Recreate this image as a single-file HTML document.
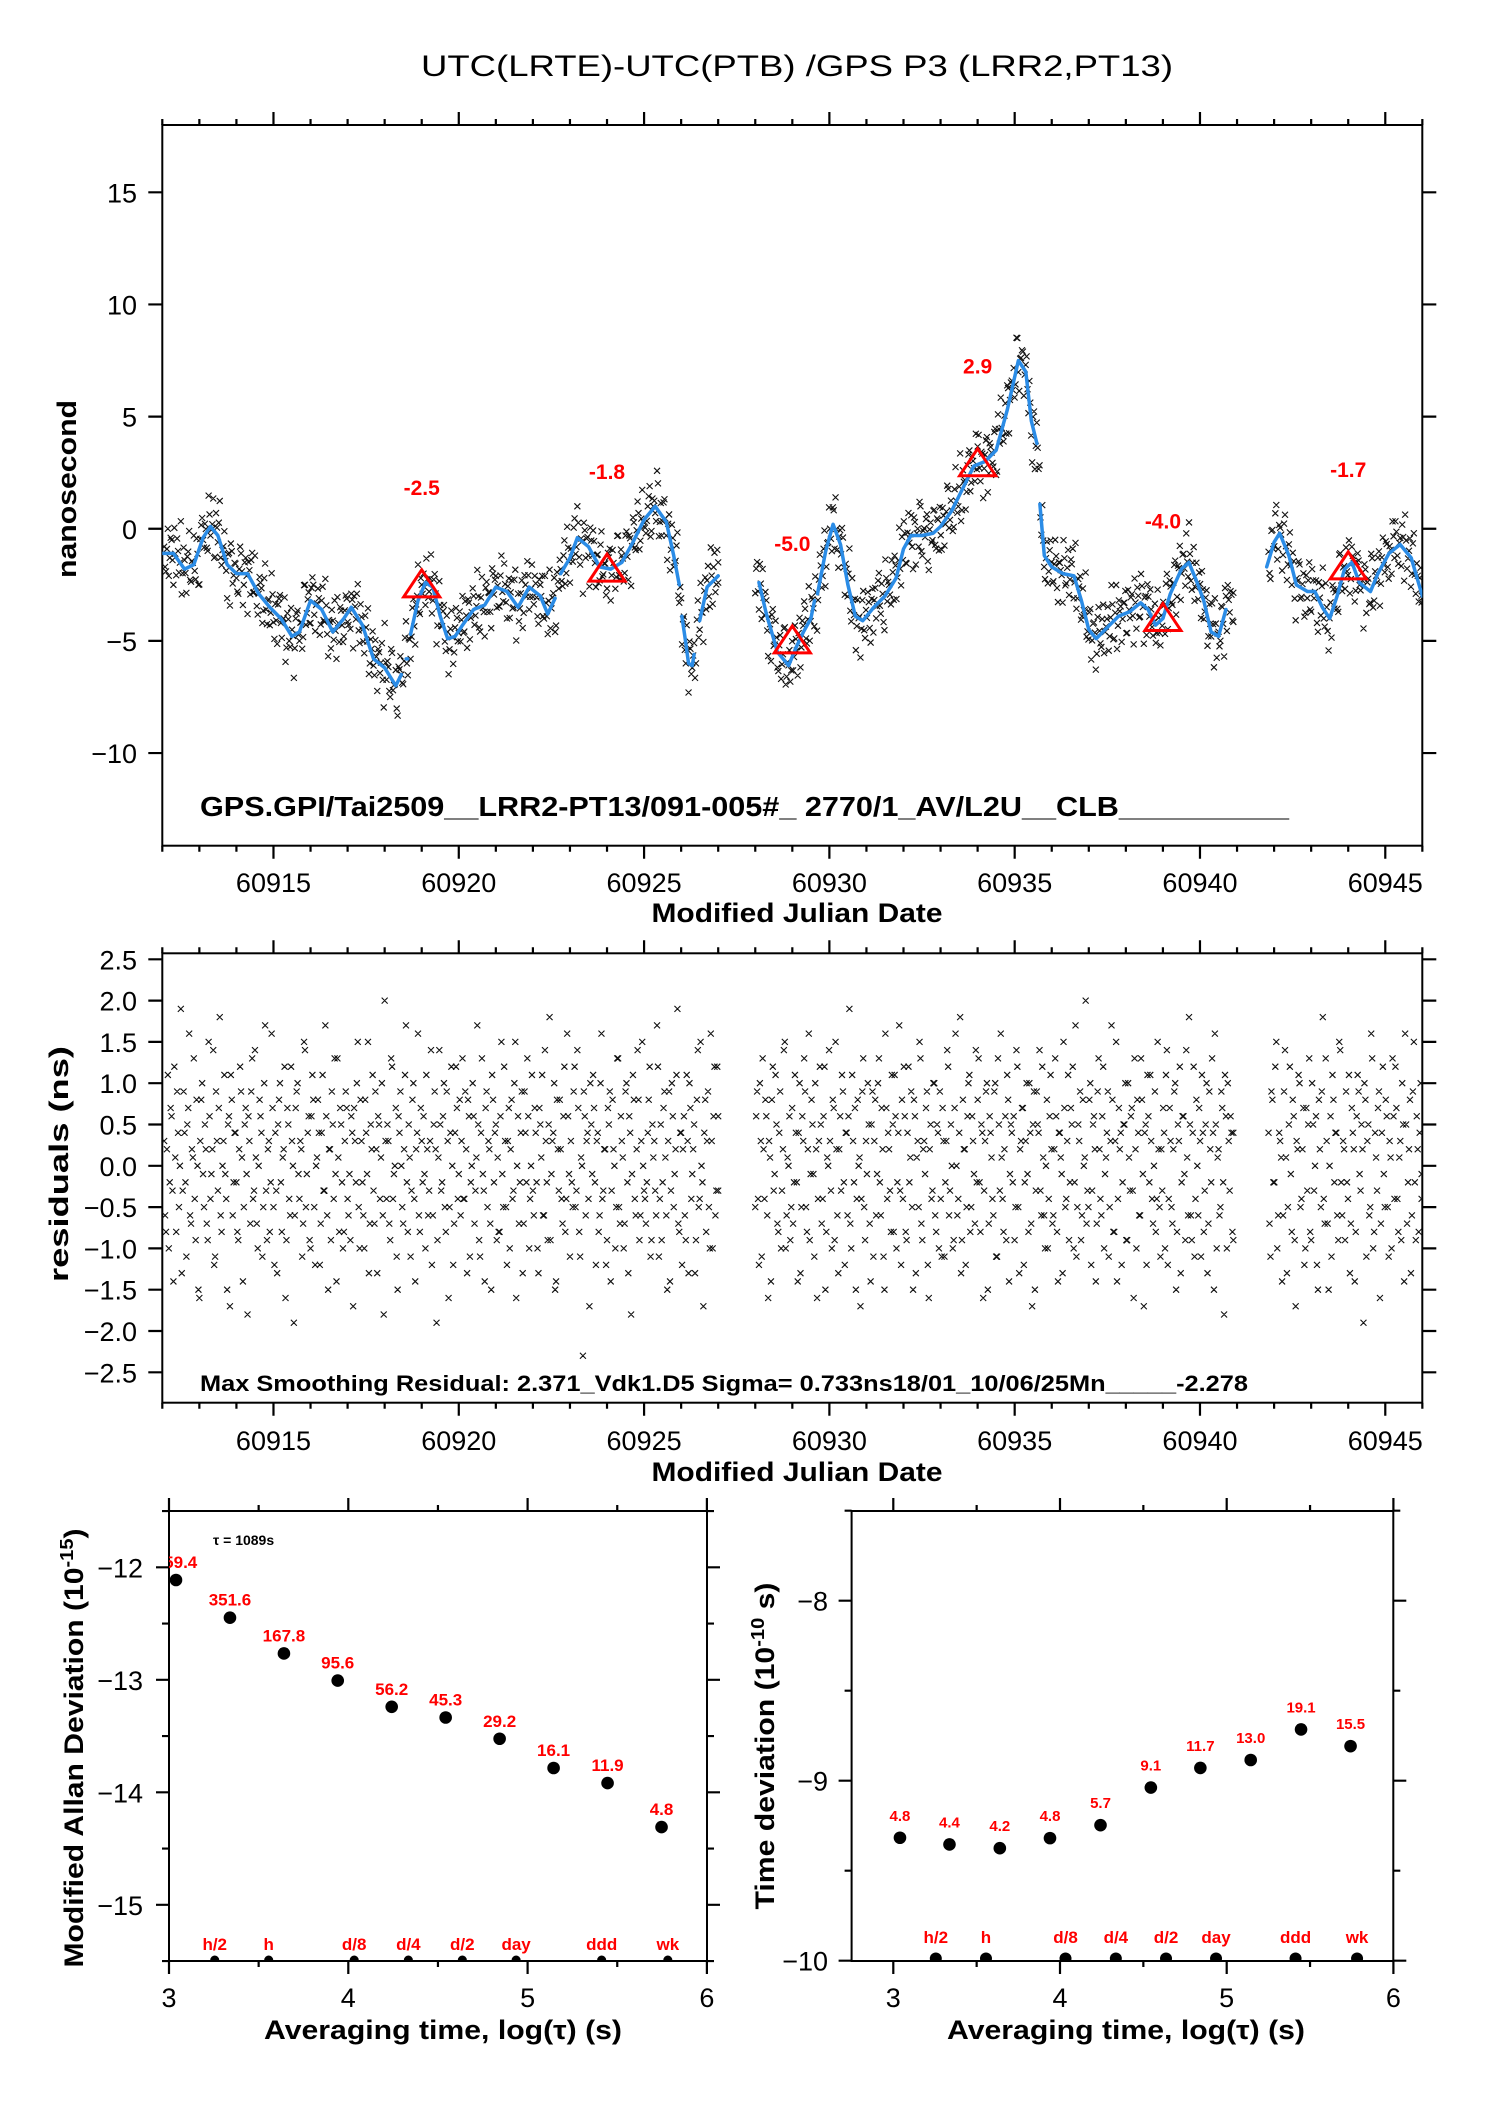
<!DOCTYPE html>
<html><head><meta charset="utf-8"><title>UTC(LRTE)-UTC(PTB) GPS P3</title>
<style>
html,body{margin:0;padding:0;background:#fff;}
svg{display:block;font-family:"Liberation Sans",Arial,sans-serif;}
.tick{font-size:27px;fill:#000;}
.axl{font-size:27px;font-weight:bold;fill:#000;}
.red{fill:#ff0000;font-weight:bold;}
</style></head>
<body>
<svg id="fig" width="1488" height="2105" viewBox="0 0 1488 2105" xmlns="http://www.w3.org/2000/svg">
<defs>
<clipPath id="clipTop"><rect x="162.3" y="125" width="1260" height="720.7"/></clipPath>
<clipPath id="clipMid"><rect x="162.3" y="953.3" width="1260" height="449.4"/></clipPath>
<clipPath id="clipAdev"><rect x="169" y="1511" width="538" height="450"/></clipPath>
<clipPath id="clipTdev"><rect x="851.6" y="1511" width="541.7" height="450"/></clipPath>
</defs>
<text x="797" y="76" text-anchor="middle" font-size="30" textLength="752" lengthAdjust="spacingAndGlyphs">UTC(LRTE)-UTC(PTB)  /GPS  P3  (LRR2,PT13)</text>

<rect x="162.3" y="125" width="1260" height="720.7" fill="none" stroke="#000" stroke-width="2"/>
<rect x="162.3" y="953.3" width="1260" height="449.4" fill="none" stroke="#000" stroke-width="2"/>
<rect x="169" y="1511" width="538" height="450" fill="none" stroke="#000" stroke-width="2"/>
<rect x="851.6" y="1511" width="541.7" height="450" fill="none" stroke="#000" stroke-width="2"/>

<text class="axl" transform="translate(76,489) rotate(-90)" text-anchor="middle" textLength="178" lengthAdjust="spacingAndGlyphs">nanosecond</text>
<text class="axl" x="797" y="929" text-anchor="middle" textLength="291" lengthAdjust="spacingAndGlyphs" dy="-7">Modified Julian Date</text>
<text x="200" y="816" font-size="28" font-weight="bold" textLength="1089" lengthAdjust="spacingAndGlyphs">GPS.GPI/Tai2509__LRR2-PT13/091-005#_  2770/1_AV/L2U__CLB__________</text>

<text class="axl" transform="translate(68,1164) rotate(-90)" text-anchor="middle" textLength="236" lengthAdjust="spacingAndGlyphs">residuals (ns)</text>
<text class="axl" x="797" y="1481" text-anchor="middle" textLength="291" lengthAdjust="spacingAndGlyphs">Modified Julian Date</text>
<text x="200" y="1391" font-size="22" font-weight="bold" textLength="1048" lengthAdjust="spacingAndGlyphs">Max Smoothing Residual: 2.371_Vdk1.D5  Sigma= 0.733ns18/01_10/06/25Mn_____-2.278</text>

<text class="axl" transform="translate(83,1748) rotate(-90)" text-anchor="middle" textLength="439" lengthAdjust="spacingAndGlyphs">Modified Allan Deviation (10<tspan font-size="18" dy="-10">-15</tspan><tspan dy="10">)</tspan></text>
<text class="axl" x="443" y="2039" text-anchor="middle" textLength="358" lengthAdjust="spacingAndGlyphs">Averaging time, log(τ) (s)</text>
<text x="213" y="1545" font-size="14" font-weight="bold">τ = 1089s</text>

<text class="axl" transform="translate(774,1746) rotate(-90)" text-anchor="middle" textLength="327" lengthAdjust="spacingAndGlyphs">Time deviation (10<tspan font-size="18" dy="-10">-10</tspan><tspan dy="10"> s)</tspan></text>
<text class="axl" x="1126" y="2039" text-anchor="middle" textLength="358" lengthAdjust="spacingAndGlyphs">Averaging time, log(τ) (s)</text>

<g id="gTop" clip-path="url(#clipTop)"></g>
<g id="gMid" clip-path="url(#clipMid)"></g>
<g id="gAdev" clip-path="url(#clipAdev)"></g>
<g id="gTdev" clip-path="url(#clipTdev)"></g>
<g id="gAxes"></g>
</svg>
<script>
// ---------- data ----------
const mjdTicks = [60915, 60920, 60925, 60930, 60935, 60940, 60945];
const topYTicks = [15, 10, 5, 0, -5, -10];
const midYTicks = [2.5, 2.0, 1.5, 1.0, 0.5, 0.0, -0.5, -1.0, -1.5, -2.0, -2.5];
const curveMjd = [60912.0,60912.3,60912.6,60912.85,60913.1,60913.3,60913.5,60913.75,60914.0,60914.3,60914.6,60914.9,60915.2,60915.5,60915.7,60916.0,60916.3,60916.6,60916.9,60917.1,60917.4,60917.7,60918.0,60918.3,60918.45,null,
60918.58,60918.62,null,
60918.7,60918.9,60919.1,60919.3,60919.5,60919.7,60919.9,60920.1,60920.4,60920.7,60921.0,60921.3,60921.6,60921.9,60922.2,60922.4,60922.6,null,
60922.75,60923.0,60923.2,60923.5,60923.8,60924.1,60924.4,60924.7,60925.0,60925.3,60925.6,60925.8,60925.95,null,
60926.02,60926.1,60926.2,60926.3,60926.35,null,
60926.5,60926.7,60927.0,null,
60928.1,60928.3,60928.6,60928.9,60929.1,60929.3,60929.5,60929.6,null,
60929.68,60929.9,60930.1,60930.3,60930.5,60930.7,60930.9,60931.2,60931.5,60931.8,60932.0,60932.2,60932.5,60932.8,60933.0,60933.3,60933.6,60933.9,60934.2,60934.5,60934.8,60935.1,60935.3,60935.45,60935.6,null,
60935.68,60935.8,60936.0,60936.3,60936.6,60936.8,60937.0,60937.2,60937.5,60937.8,60938.1,60938.4,60938.6,60938.8,60939.0,60939.2,60939.5,60939.7,60939.9,60940.1,60940.3,60940.5,60940.7,null,
60941.8,60942.0,60942.15,60942.4,60942.6,60942.9,60943.1,60943.3,60943.5,60943.7,60943.9,60944.1,60944.3,60944.6,60944.8,60945.1,60945.4,60945.7,60946.0];
const curveNs = [-1.1,-1.1,-1.8,-1.6,-0.4,0.1,-0.3,-1.6,-2.0,-2.0,-2.9,-3.5,-4.0,-4.8,-4.6,-3.2,-3.6,-4.6,-4.0,-3.5,-4.3,-5.8,-6.2,-7.0,-6.5,null,
-5.8,-5.8,null,
-4.7,-3.2,-2.4,-2.6,-3.9,-4.9,-4.8,-4.3,-3.6,-3.4,-2.6,-2.8,-3.5,-2.6,-3.0,-3.8,-3.1,null,
-2.0,-1.3,-0.4,-0.8,-1.7,-1.8,-1.5,-0.6,0.4,1.0,0.3,-1.2,-2.5,null,
-3.9,-4.8,-6.0,-6.1,-5.6,null,
-4.1,-2.6,-2.1,null,
-2.4,-3.8,-5.5,-6.1,-5.3,-4.6,-4.0,-3.2,null,
-2.9,-1.0,0.2,-0.7,-2.5,-3.9,-4.1,-3.5,-3.0,-2.2,-0.9,-0.3,-0.3,-0.2,0.1,0.8,1.8,2.8,3.0,3.5,5.3,7.5,7.0,4.8,3.8,null,
1.1,-1.2,-1.7,-2.0,-2.1,-3.2,-4.5,-4.9,-4.4,-3.9,-3.7,-3.3,-3.6,-4.3,-4.0,-2.9,-1.8,-1.5,-2.3,-3.2,-4.6,-4.8,-3.6,null,
-1.7,-0.6,-0.2,-1.2,-2.5,-2.8,-2.8,-3.5,-4.0,-3.0,-1.8,-1.5,-2.4,-2.8,-2.0,-1.1,-0.7,-1.3,-3.0];
const triMjd = [60919, 60924, 60929, 60934, 60939, 60944];
const triNs = [-2.5, -1.8, -5.0, 2.9, -4.0, -1.7];
const segStart = [60912.05, 60928.0, 60941.85];
const segEnd = [60927.0, 60940.9, 60945.98];
const residA = [0.3,-0.8,1.1,-0.2,0.6,-1.4,0.1,0.9,-0.5,1.9,-0.3,0.4,-1.1,0.7,-0.6,0.2,1.3,-0.9,0.0,-1.6,
0.8,-0.1,0.5,-0.7,1.5,-0.4,0.2,-1.2,0.9,-0.3,1.8,-0.8,0.3,-0.1,-1.5,0.6,1.1,-0.6,0.4,-0.2,
-0.9,1.2,0.1,-0.5,0.7,-1.8,0.3,0.9,-0.4,1.4,-0.7,0.0,0.6,-1.1,1.0,-0.3,0.2,-0.8,1.6,-0.5,
0.4,-1.3,0.8,-0.2,0.1,1.2,-0.9,0.5,-0.6,0.3,-1.9,0.7,1.0,-0.4,0.2,-0.7,1.4,-0.1,0.6,-1.0,
1.1,-0.5,0.0,0.8,-1.2,0.4,-0.3,1.7,-0.6,0.2,-0.9,0.5,1.3,-1.4,0.1,0.7,-0.2,-0.8,0.9,-0.4,
-0.1,0.6,-1.7,0.3,1.0,-0.5,0.8,-0.2,-1.0,0.4,1.5,-0.7,0.2,-0.3,0.9,-1.3,0.5,0.1,-0.6,2.0,
-0.4,0.3,-0.9,1.2,-0.1,0.7,-1.5,0.4,0.0,-0.7,1.1,-0.2,0.5,-1.1,0.8,-0.4,0.2,1.6,-0.8,0.3,
0.6,-1.0,0.2,-0.3,1.4,-0.6,0.9,-1.9,0.1,0.5,-0.2,1.0,-0.8,0.3,-0.5,1.2,-1.2,0.4,0.7,-0.1,
-0.6,1.3,-0.4,0.2,0.8,-1.1,0.0,0.6,-0.3,1.7,-0.9,0.4,-0.1,-1.4,0.9,0.3,-0.7,1.1,-0.2,0.5,
0.1,-0.8,1.5,-0.5,0.3,-1.2,0.7,0.2,-0.4,1.0,-1.6,0.6,-0.2,0.9,-0.7,0.4,1.3,-1.0,0.0,-0.3,
0.7,-0.2,-1.3,0.5,1.1,-0.6,0.3,-0.9,1.8,-0.1,0.4,-1.5,0.8,-0.3,0.2,-0.7,1.2,-0.4,0.6,-1.1,
-0.2,0.9,-0.5,1.4,-0.8,0.1,-2.3,0.6,0.3,-0.4,1.0,-0.1,0.7,-1.2,0.4,-0.6,1.6,-0.3,0.2,-0.9,
0.5,-1.4,0.8,0.0,-0.5,1.3,-0.7,0.3,-1.0,0.9,-0.2,0.6,-1.8,1.1,-0.4,0.2,0.8,-0.6,1.5,-0.3,
-0.7,0.4,1.2,-0.9,0.1,-0.3,1.7,-1.1,0.5,-0.2,0.9,-0.6,0.3,-1.4,1.0,-0.5,0.2,1.9,-0.8,0.4,
0.2,-0.6,1.1,-1.3,0.7,-0.1,0.5,-0.9,1.4,-0.4,0.0,-1.7,0.8,0.3,-0.5,1.6,-1.0,1.2,-0.3,0.6];
const residB = [-0.5,0.9,-1.2,0.3,1.3,-0.4,0.6,-1.6,0.1,0.8,-0.3,1.1,-0.7,0.4,-1.0,0.2,1.5,-0.6,0.0,-0.9,
0.7,-0.2,0.4,-1.4,1.0,-0.5,0.3,0.9,-0.8,1.6,-0.1,0.5,-1.1,0.2,-0.4,1.2,-0.7,0.6,-1.5,0.1,
1.4,-0.3,0.8,-0.9,0.2,-1.3,0.6,1.1,-0.2,0.4,-0.6,1.9,-1.0,0.3,0.7,-0.4,0.0,-1.7,0.9,-0.5,
0.3,1.0,-0.7,0.5,-1.1,0.8,-0.1,1.3,-0.6,0.2,-1.5,0.7,0.4,-0.3,1.1,-0.8,0.6,-0.2,1.7,-1.2,
-0.4,0.6,-0.9,1.2,0.1,-0.5,0.8,-1.3,0.3,1.5,-0.7,0.2,-0.1,0.9,-1.6,0.5,-0.3,1.0,-0.8,0.4,
0.9,-1.1,0.3,-0.2,1.4,-0.6,0.5,-1.0,0.7,0.0,-0.4,1.8,-0.9,0.2,-1.2,0.6,1.1,-0.5,0.3,-0.7,
-0.2,1.3,-0.8,0.4,-0.3,0.9,-1.5,0.6,0.1,-0.6,1.0,-1.1,0.5,1.6,-0.4,0.2,-0.9,0.8,-0.1,0.4,
0.6,-0.5,1.2,-1.3,0.3,0.7,-0.2,1.0,-0.8,0.4,-1.7,0.9,-0.3,0.5,1.4,-0.6,0.1,-1.0,0.8,-0.4,
1.1,-0.7,0.2,0.6,-1.4,0.4,-0.1,1.5,-0.5,0.3,-0.9,0.7,1.2,-0.2,-1.1,0.5,0.9,-0.6,0.0,2.0,
-0.3,0.8,-1.2,0.5,0.2,-0.7,1.3,-0.4,0.6,-1.0,0.1,0.9,-0.5,1.7,-0.8,0.3,-1.4,0.7,0.4,-0.2,
0.5,-0.9,1.0,-0.3,0.7,-1.6,0.2,0.8,-0.6,1.3,-0.1,0.4,-1.2,0.6,1.1,-0.4,0.0,-0.8,1.5,-0.5,
0.2,0.7,-1.0,1.4,-0.4,0.3,-0.7,0.9,-1.5,0.5,1.2,-0.2,0.6,-0.9,0.1,1.8,-0.6,0.4,-1.1,0.8,
-0.6,0.3,1.1,-0.8,0.5,-1.3,0.9,-0.2,0.4,1.6,-1.0,0.2,-0.5,0.7,-1.8,0.6,1.0,-0.3,0.4,-0.9];
const residC = [0.4,-1.1,0.8,-0.2,1.5,-0.6,0.3,-1.4,0.9,0.1,-0.5,1.2,-0.8,0.6,-1.7,0.2,1.0,-0.4,0.7,-1.0,
-0.3,1.3,-0.9,0.5,0.0,-1.2,0.8,-0.5,1.8,-0.7,0.3,-1.5,0.6,1.1,-0.2,0.4,-0.9,1.4,-0.6,0.2,
0.9,-0.4,-1.3,0.7,0.2,-0.8,1.1,-0.1,0.5,-1.9,0.8,0.3,-0.6,1.6,-1.0,0.4,-0.3,0.9,-0.7,1.2,
-0.5,0.6,-1.1,0.1,1.3,-0.4,0.7,-0.8,0.3,1.0,-1.4,0.5,-0.2,0.8,-0.6,1.5,-0.9,0.2,0.4,-0.1];
const residA2 = [-0.6,0.2,-1.0,0.7,-0.3,1.2,-0.8,0.4,0.0,-1.3,0.9,-0.2,0.5,1.6,-0.7,0.1,-0.4,0.8,-1.5,0.3,
1.0,-0.5,0.2,-0.9,0.6,-0.1,1.4,-1.1,0.3,0.7,-0.6,0.0,1.1,-0.4,0.5,-1.7,0.8,-0.2,0.4,-0.8,
0.2,0.9,-1.4,0.5,-0.1,0.6,-0.7,1.3,-0.3,0.1,-1.0,0.8,0.4,-0.5,1.7,-0.9,0.3,-0.2,0.7,-1.2,
-0.3,0.5,1.0,-0.8,0.2,-1.6,0.7,-0.4,1.2,0.0,-0.6,0.9,-0.1,0.3,-1.1,1.5,-0.5,0.4,-0.9,0.6,
0.8,-1.2,0.1,0.4,-0.7,1.1,-0.3,0.6,-1.5,0.2,0.9,-0.4,-0.1,1.3,-0.8,0.5,-1.0,0.3,0.7,-0.6,
-0.9,0.4,0.7,-0.2,1.5,-1.0,0.3,-0.6,0.8,-0.1,-1.3,0.5,1.1,-0.7,0.2,0.6,-0.4,1.0,-1.8,0.3,
0.5,-0.7,1.3,-0.4,0.0,-1.1,0.6,0.9,-0.5,0.2,1.7,-0.8,0.1,-0.3,1.0,-1.4,0.4,-0.6,0.7,-0.2,
-0.1,1.1,-0.6,0.3,-1.2,0.5,0.2,-0.9,1.4,-0.3,0.6,-0.5,0.9,-1.6,0.4,0.0,-0.7,1.2,-0.4,0.8,
0.3,-0.4,0.9,-1.3,0.6,-0.2,1.0,-0.7,0.1,0.5,-1.1,1.3,-0.3,0.7,-0.5,0.2,-1.5,0.8,0.4,-0.9,
-0.8,0.6,-0.1,1.2,-0.5,0.3,-1.0,0.8,-0.3,1.5,0.0,-0.7,0.4,-1.3,0.9,-0.2,0.6,-0.4,1.1,-0.6,
0.4,-1.0,0.7,0.1,-0.6,1.4,-0.2,0.5,-0.9,0.3,1.0,-1.4,0.2,0.8,-0.4,0.6,-0.8,1.6,-0.1,0.3,
-0.5,1.2,-0.3,0.7,-1.1,0.0,0.9,-0.6,0.4,-1.7,0.5,1.1,-0.2,0.3,-0.8,1.0,-0.4,0.2,-1.2,0.7,
0.9,-0.3,0.2,-1.0,1.3,-0.5,0.6,0.1,-0.7,1.0,-1.3,0.4,-0.1,0.8,-0.6,1.4,-0.9,0.3,0.0,-0.4,
-0.2,0.8,-1.1,0.5,0.3,-0.6,1.2,-0.4,-0.9,0.7,0.1,-1.5,0.9,-0.3,0.6,-0.1,1.1,-0.7,0.4,-1.2,
0.6,-0.9,0.3,1.0,-0.4,0.2,-1.3,0.8,-0.5,1.5,-0.2,0.4,-0.8,0.9,-1.0,0.3,0.6,-0.6,1.2,-0.3];
const residB2 = [0.6,-0.4,1.0,-1.1,0.2,0.8,-0.6,0.3,-1.4,1.2,-0.1,0.5,-0.8,0.9,-0.3,1.4,-1.0,0.1,0.6,-0.5,
-0.7,1.1,-0.2,0.4,-1.3,0.6,1.3,-0.5,0.2,-0.9,0.8,-0.1,1.0,-1.6,0.3,0.5,-0.4,1.2,-0.8,0.0,
0.3,-1.0,0.7,1.5,-0.6,0.2,-0.3,0.9,-1.2,0.4,0.6,-0.7,1.1,-0.2,-1.5,0.8,0.1,-0.4,1.3,-0.9,
-0.1,0.5,-1.4,0.9,0.3,-0.6,1.0,-0.2,0.7,-1.1,1.6,-0.4,0.2,-0.8,0.5,1.1,-1.0,0.4,-0.3,0.8,
1.2,-0.8,0.4,-0.2,0.9,-1.5,0.6,0.1,-0.5,1.3,-0.9,0.3,0.7,-1.2,0.2,-0.4,1.0,-0.6,0.5,-1.0,
-0.4,0.7,-1.1,0.3,1.2,-0.3,0.0,-0.9,1.6,-0.6,0.4,-1.3,0.8,0.2,-0.5,1.0,-0.8,0.6,-0.1,1.4,
0.8,-0.2,0.5,-1.6,0.3,1.0,-0.7,0.4,-0.4,0.9,-1.1,1.3,-0.3,0.1,-0.8,0.6,1.1,-1.4,0.5,-0.2,
-0.9,1.4,-0.5,0.2,0.7,-1.2,0.3,-0.1,1.0,-0.7,0.5,-1.5,0.9,0.4,-0.3,1.2,-0.6,0.0,-1.0,0.6,
0.2,-0.6,1.3,-0.8,0.4,0.1,-1.3,0.7,-0.4,1.1,-0.2,0.5,-1.0,1.7,-0.5,0.3,-0.9,0.8,0.1,-0.7,
-0.5,1.0,-0.3,0.6,-1.4,0.9,0.2,-0.6,1.2,-0.1,0.4,-1.1,0.3,0.8,-0.8,1.5,-0.4,0.2,-1.2,0.5,
1.0,-0.9,0.1,0.6,-0.3,1.3,-1.0,0.4,-0.6,0.8,-1.7,0.5,1.1,-0.2,0.3,-0.7,0.9,-0.4,0.2,-1.1,
-0.3,0.4,1.1,-1.2,0.7,-0.5,0.2,1.0,-0.8,0.3,-1.3,0.6,-0.1,1.4,-0.6,0.5,-0.9,1.2,-0.4,0.0,
0.7,-1.1,0.4,-0.3,1.0,-0.7,0.2,1.3,-1.5,0.5,0.1,-0.6,0.9,-0.2,1.1,-1.0,0.3,0.6,-0.8,0.4];
const residC2 = [-0.7,0.9,-0.2,1.2,-1.0,0.4,0.1,-0.6,1.4,-1.3,0.5,-0.1,0.8,-0.9,0.3,1.1,-0.5,0.2,-1.2,0.7,
0.5,-0.8,1.0,-0.3,0.6,-1.5,0.2,0.9,-0.4,1.3,-0.7,0.0,-1.1,0.8,0.4,-0.6,1.5,-0.2,0.3,-0.9,
-0.2,1.1,-0.7,0.4,-1.4,0.6,0.9,-0.3,0.2,1.0,-1.1,0.5,-0.5,1.3,-0.8,0.1,0.7,-1.6,0.4,-0.1,
0.8,-0.5,0.3,-1.0,0.6,1.2,-0.4,0.1,-0.9,0.5,1.6,-0.7,0.2,-1.3,0.9,-0.2,0.6,-0.8,1.0,-0.4];

const logTicks = [3, 4, 5, 6];
const adevYTicks = [-12, -13, -14, -15];
const tdevYTicks = [-8, -9, -10];
const adevLog = [3.039, 3.34, 3.641, 3.941, 4.242, 4.543, 4.844, 5.145, 5.446, 5.747];
const adevVal = [-12.113, -12.448, -12.766, -13.007, -13.24, -13.335, -13.524, -13.784, -13.918, -14.309];
const adevLabel = ["659.4", "351.6", "167.8", "95.6", "56.2", "45.3", "29.2", "16.1", "11.9", "4.8"];
const tdevLog = [3.04, 3.337, 3.639, 3.94, 4.243, 4.545, 4.842, 5.144, 5.446, 5.743];
const tdevVal = [-9.317, -9.354, -9.375, -9.319, -9.247, -9.038, -8.929, -8.885, -8.715, -8.808];
const tdevLabel = ["4.8", "4.4", "4.2", "4.8", "5.7", "9.1", "11.7", "13.0", "19.1", "15.5"];
const markerLog = [3.255, 3.556, 4.033, 4.335, 4.636, 4.936, 5.413, 5.782];
const markerLabel = ["h/2", "h", "d/8", "d/4", "d/2", "day", "ddd", "wk"];

// ---------- scales ----------
const X = m => 162.3 + (m - 60912) * 37.06;
const Y = v => 192.3 + (15 - v) * 22.43;
const RY = r => 959.3 + (2.5 - r) * 82.6;
const AX = l => 169 + (l - 3) * 179.3;
const AY = v => 1567.3 + (-12 - v) * 112.5;
const TX = l => 893.3 + (l - 3) * 166.7;
const TY = v => 1600.7 + (-8 - v) * 180;

const NS = "http://www.w3.org/2000/svg";
function mk(tag, attrs, parent) {
  const e = document.createElementNS(NS, tag);
  for (const k in attrs) e.setAttribute(k, attrs[k]);
  parent.appendChild(e);
  return e;
}
const gTop = document.getElementById("gTop");
const gMid = document.getElementById("gMid");
const gAdev = document.getElementById("gAdev");
const gTdev = document.getElementById("gTdev");
const gAxes = document.getElementById("gAxes");
const fmtNeg = s => String(s).replace("-", "\u2212");

// ---------- axes ----------
let tickPath = "";
for (let d = 60912; d <= 60946; d++) {
  const x = X(d); const major = (d % 5 === 0) ? 13 : 6;
  tickPath += `M${x},845.7v${major}M${x},125v${-major}M${x},1402.7v${major}M${x},953.3v${-major}`;
}
topYTicks.forEach(v => { const y = Y(v); tickPath += `M148.3,${y}h14M1422.3,${y}h14`; });
midYTicks.forEach(v => { const y = RY(v); tickPath += `M148.3,${y}h14M1422.3,${y}h14`; });
for (let l = 3; l <= 6.001; l += 0.5) {
  const major = Math.abs(l - Math.round(l)) < 0.01 ? 13 : 6;
  const ax = AX(l), tx = TX(l);
  tickPath += `M${ax},1961v${major}M${ax},1511v${-major}M${tx},1961v${major}M${tx},1511v${-major}`;
}
for (let v = -11.5; v >= -15.5; v -= 0.5) {
  const y = AY(v); const len = Math.abs(v - Math.round(v)) < 0.01 ? 13 : 7;
  tickPath += `M${169 - len},${y}h${len}M707,${y}h${len}`;
}
for (let v = -7.5; v >= -10; v -= 0.5) {
  const y = TY(v); const len = Math.abs(v - Math.round(v)) < 0.01 ? 13 : 7;
  tickPath += `M${851.6 - len},${y}h${len}M1393.3,${y}h${len}`;
}
const ticksEl = mk("path", { d: tickPath, stroke: "#000", "stroke-width": 2.2, fill: "none" }, gAxes);



mjdTicks.forEach(m => {
  const t1 = mk("text", { x: X(m), y: 892, "text-anchor": "middle", class: "tick" }, gAxes);
  t1.textContent = m;
  
  
  const t2 = mk("text", { x: X(m), y: 1450, "text-anchor": "middle", class: "tick" }, gAxes);
  t2.textContent = m;
  
  
});
topYTicks.forEach(v => {
  const t = mk("text", { x: 137, y: Y(v) + 10, "text-anchor": "end", class: "tick" }, gAxes);
  t.textContent = fmtNeg(v);
  
  
});
midYTicks.forEach(v => {
  const t = mk("text", { x: 137, y: RY(v) + 10, "text-anchor": "end", class: "tick" }, gAxes);
  t.textContent = fmtNeg(v.toFixed(1));
  
  
});
logTicks.forEach(l => {
  const t1 = mk("text", { x: AX(l), y: 2007, "text-anchor": "middle", class: "tick" }, gAxes);
  t1.textContent = l;
  
  
  const t2 = mk("text", { x: TX(l), y: 2007, "text-anchor": "middle", class: "tick" }, gAxes);
  t2.textContent = l;
  
  
});
adevYTicks.forEach(v => {
  const t = mk("text", { x: 143, y: AY(v) + 10, "text-anchor": "end", class: "tick" }, gAxes);
  t.textContent = fmtNeg(v);
  
  
});
tdevYTicks.forEach(v => {
  const t = mk("text", { x: 828, y: TY(v) + 10, "text-anchor": "end", class: "tick" }, gAxes);
  t.textContent = fmtNeg(v);
  
  
});

// ---------- smoothing curve interpolation ----------
function curveAt(m) {
  let pi = -1, ni = -1;
  for (let i = 0; i < curveMjd.length; i++) {
    if (curveMjd[i] === null) continue;
    if (curveMjd[i] <= m) pi = i;
    if (curveMjd[i] >= m) { ni = i; break; }
  }
  if (pi < 0) return curveNs[ni];
  if (ni < 0) return curveNs[pi];
  if (curveMjd[ni] === curveMjd[pi]) return curveNs[pi];
  const f = (m - curveMjd[pi]) / (curveMjd[ni] - curveMjd[pi]);
  return curveNs[pi] + f * (curveNs[ni] - curveNs[pi]);
}

// ---------- scatter ----------
const resid = [residA, residB, residC];
const resid2 = [residA2, residB2, residC2];
let topD = "", midD = "";
function addPts(arr, s, offset) {
  const n = arr.length;
  const step = (segEnd[s] - segStart[s]) / (n - 1);
  for (let i = 0; i < n; i++) {
    const m = Math.min(segEnd[s], segStart[s] + step * (i + offset));
    const r = arr[i];
    const x = X(m), y1 = Y(curveAt(m) + r), y2 = RY(r);
    topD += `M${x-3},${y1-3}l6,6M${x-3},${y1+3}l6,-6`;
    midD += `M${x-3},${y2-3}l6,6M${x-3},${y2+3}l6,-6`;
  }
}
resid.forEach((arr, s) => addPts(arr, s, 0));
resid2.forEach((arr, s) => addPts(arr, s, 0.5));
const topSc = mk("path", { d: topD, stroke: "#111", "stroke-width": 1.1, fill: "none" }, gTop);


const midSc = mk("path", { d: midD, stroke: "#111", "stroke-width": 1.1, fill: "none" }, gMid);



// ---------- smoothing curve ----------
let cd = "", pen = false;
for (let i = 0; i < curveMjd.length; i++) {
  if (curveMjd[i] === null) { pen = false; continue; }
  cd += (pen ? "L" : "M") + X(curveMjd[i]) + "," + Y(curveNs[i]);
  pen = true;
}
const curve = mk("path", { d: cd, stroke: "#2b8ce6", "stroke-width": 3.5, fill: "none", "stroke-linejoin": "round", "stroke-linecap": "round" }, gTop);



// ---------- triangles ----------
triMjd.forEach((m, i) => {
  const x = X(m), y = Y(triNs[i]);
  const tri = mk("path", { d: `M${x},${y-15}L${x+18},${y+12}L${x-18},${y+12}Z`, stroke: "#ff0000", "stroke-width": 3, fill: "none" }, gTop);
  
  
  const lab = mk("text", { x: x, y: y - 90, "text-anchor": "middle", "font-size": 21, class: "red" }, gTop);
  lab.textContent = triNs[i].toFixed(1);
  
  
});

// ---------- allan deviation ----------
adevLog.forEach((l, i) => {
  const x = AX(l), y = AY(adevVal[i]);
  const c = mk("circle", { cx: x, cy: y, r: 6.3, fill: "#000" }, gAdev);
  
  
  const t = mk("text", { x: x, y: y - 12, "text-anchor": "middle", "font-size": 17, class: "red" }, gAdev);
  t.textContent = adevLabel[i];
  
  
});
markerLog.forEach((l, i) => {
  const c = mk("circle", { cx: AX(l), cy: 1960, r: 4.5, fill: "#000" }, gAdev);
  
  
  const t = mk("text", { x: AX(l), y: 1950, "text-anchor": "middle", "font-size": 17, class: "red" }, gAdev);
  t.textContent = markerLabel[i];
  
  
});

// ---------- time deviation ----------
tdevLog.forEach((l, i) => {
  const x = TX(l), y = TY(tdevVal[i]);
  const c = mk("circle", { cx: x, cy: y, r: 6.3, fill: "#000" }, gTdev);
  
  
  const t = mk("text", { x: x, y: y - 17, "text-anchor": "middle", "font-size": 15, class: "red" }, gTdev);
  t.textContent = tdevLabel[i];
  
  
});
markerLog.forEach((l, i) => {
  const c = mk("circle", { cx: TX(l), cy: 1958.5, r: 6, fill: "#000" }, gTdev);
  
  
  const t = mk("text", { x: TX(l), y: 1943, "text-anchor": "middle", "font-size": 17, class: "red" }, gTdev);
  t.textContent = markerLabel[i];
  
  
});
</script>
</body></html>
